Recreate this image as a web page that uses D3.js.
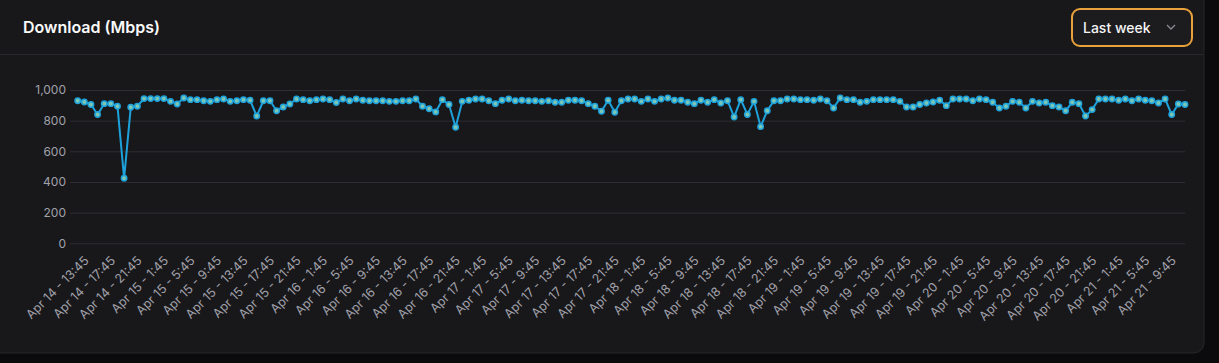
<!DOCTYPE html>
<html>
<head>
<meta charset="utf-8">
<script src="https://cdn.jsdelivr.net/npm/d3@7"></script>
<style>
  html, body { margin: 0; padding: 0; background: #0b0b0d; }
  body { width: 1219px; height: 363px; overflow: hidden; font-family: Inter, "Noto Sans", sans-serif; }
</style>
</head>
<body>
<div id="chart"></div>
<script>
const svgWidth = 1219, svgHeight = 363;

// hourly download speed, Apr 14 13:45 -> Apr 21 12:45
const downloadValues = [
  930, 922, 905, 840, 911, 911, 894, 424, 887, 894,
  944, 944, 944, 944, 926, 909, 948, 937, 937, 930,
  926, 937, 941, 926, 930, 937, 933, 830, 930, 930,
  865, 889, 909, 941, 937, 930, 937, 941, 937, 918,
  941, 930, 941, 933, 930, 930, 930, 926, 926, 930,
  930, 941, 894, 878, 857, 937, 905, 757, 926, 933,
  941, 941, 930, 911, 933, 941, 930, 933, 930, 930,
  926, 930, 920, 920, 933, 933, 930, 911, 894, 861,
  933, 855, 930, 941, 941, 926, 941, 926, 941, 948,
  933, 933, 920, 911, 933, 920, 937, 915, 930, 824,
  937, 840, 926, 761, 865, 930, 930, 941, 941, 937,
  937, 933, 941, 930, 883, 948, 937, 937, 920, 926,
  937, 937, 937, 937, 926, 889, 889, 905, 915, 922,
  933, 898, 941, 941, 941, 930, 941, 937, 920, 883,
  894, 926, 920, 883, 926, 915, 920, 898, 889, 865,
  920, 911, 830, 872, 941, 941, 941, 933, 941, 930,
  941, 933, 930, 915, 941, 840, 909, 905
];

// every 4th hour carries a label
const tickLabels = [
  'Apr 14 - 13:45', 'Apr 14 - 17:45', 'Apr 14 - 21:45',
  'Apr 15 - 1:45', 'Apr 15 - 5:45', 'Apr 15 - 9:45', 'Apr 15 - 13:45', 'Apr 15 - 17:45', 'Apr 15 - 21:45',
  'Apr 16 - 1:45', 'Apr 16 - 5:45', 'Apr 16 - 9:45', 'Apr 16 - 13:45', 'Apr 16 - 17:45', 'Apr 16 - 21:45',
  'Apr 17 - 1:45', 'Apr 17 - 5:45', 'Apr 17 - 9:45', 'Apr 17 - 13:45', 'Apr 17 - 17:45', 'Apr 17 - 21:45',
  'Apr 18 - 1:45', 'Apr 18 - 5:45', 'Apr 18 - 9:45', 'Apr 18 - 13:45', 'Apr 18 - 17:45', 'Apr 18 - 21:45',
  'Apr 19 - 1:45', 'Apr 19 - 5:45', 'Apr 19 - 9:45', 'Apr 19 - 13:45', 'Apr 19 - 17:45', 'Apr 19 - 21:45',
  'Apr 20 - 1:45', 'Apr 20 - 5:45', 'Apr 20 - 9:45', 'Apr 20 - 13:45', 'Apr 20 - 17:45', 'Apr 20 - 21:45',
  'Apr 21 - 1:45', 'Apr 21 - 5:45', 'Apr 21 - 9:45'
];
const labelEvery = 4;
const yTicks = [0, 200, 400, 600, 800, 1000];

const svg = d3.select('#chart')
  .append('svg')
  .attr('width', svgWidth)
  .attr('height', svgHeight);

// card
svg.append('rect')
  .attr('x', -12).attr('y', -12)
  .attr('width', 1216).attr('height', 365)
  .attr('rx', 10)
  .attr('fill', '#18181b')
  .attr('stroke', '#27272a');

svg.append('text')
  .attr('x', 23).attr('y', 33)
  .attr('fill', '#fafafa')
  .attr('font-size', 16)
  .attr('font-weight', 600)
  .text('Download (Mbps)');

svg.append('line')
  .attr('x1', 0).attr('x2', 1203)
  .attr('y1', 54.5).attr('y2', 54.5)
  .attr('stroke', '#2a2a2e');

// period select
const sel = svg.append('g').attr('transform', 'translate(1071,8)');
sel.append('rect')
  .attr('x', 1).attr('y', 1)
  .attr('width', 120).attr('height', 37)
  .attr('rx', 8)
  .attr('fill', '#1c1c1f')
  .attr('stroke', '#e9a23b')
  .attr('stroke-width', 2);
sel.append('text')
  .attr('x', 12).attr('y', 24.5)
  .attr('fill', '#f4f4f5')
  .attr('font-size', 14)
  .attr('font-weight', 500)
  .text('Last week');
sel.append('path')
  .attr('d', 'M96,17 L100,21 L104,17')
  .attr('fill', 'none')
  .attr('stroke', '#8a8a90')
  .attr('stroke-width', 1.3);

// plot
const plotLeft = 70, plotRight = 1185;
const x = d3.scalePoint()
  .domain(d3.range(downloadValues.length))
  .range([77.7, 1185]);
const y = d3.scaleLinear()
  .domain([0, 1000])
  .range([243.3, 90]);

const yAxis = svg.append('g')
  .attr('transform', `translate(${plotLeft},0)`)
  .call(d3.axisLeft(y).tickValues(yTicks).tickFormat(d3.format(',')).tickSize(-(plotRight - plotLeft)).tickPadding(4));
yAxis.select('.domain').remove();
yAxis.selectAll('.tick line').attr('stroke', '#2e2e33');
yAxis.selectAll('.tick text')
  .attr('fill', '#a1a1aa')
  .attr('font-size', 12)
  .attr('font-family', 'Inter, sans-serif');

const xAxis = svg.append('g')
  .attr('transform', 'translate(0,243)')
  .call(d3.axisBottom(x)
    .tickValues(tickLabels.map((d, i) => i * labelEvery))
    .tickFormat(i => tickLabels[i / labelEvery])
    .tickSize(0));
xAxis.select('.domain').remove();
xAxis.selectAll('.tick text')
  .attr('fill', '#a1a1aa')
  .attr('font-size', 12.5)
  .attr('font-family', 'Inter, sans-serif')
  .attr('text-anchor', 'end')
  .attr('dy', null)
  .attr('x', -5)
  .attr('y', 21)
  .attr('transform', 'rotate(-45)');

const line = d3.line()
  .x((d, i) => x(i))
  .y(d => y(d));

svg.append('path')
  .datum(downloadValues)
  .attr('fill', 'none')
  .attr('stroke', '#1ea2dc')
  .attr('stroke-width', 2)
  .attr('d', line);

svg.append('g')
  .selectAll('circle')
  .data(downloadValues)
  .join('circle')
  .attr('cx', (d, i) => x(i))
  .attr('cy', d => y(d))
  .attr('r', 2.7)
  .attr('fill', '#7cc6b4')
  .attr('stroke', '#1ea2dc')
  .attr('stroke-width', 1.5);
</script>
</body>
</html>
